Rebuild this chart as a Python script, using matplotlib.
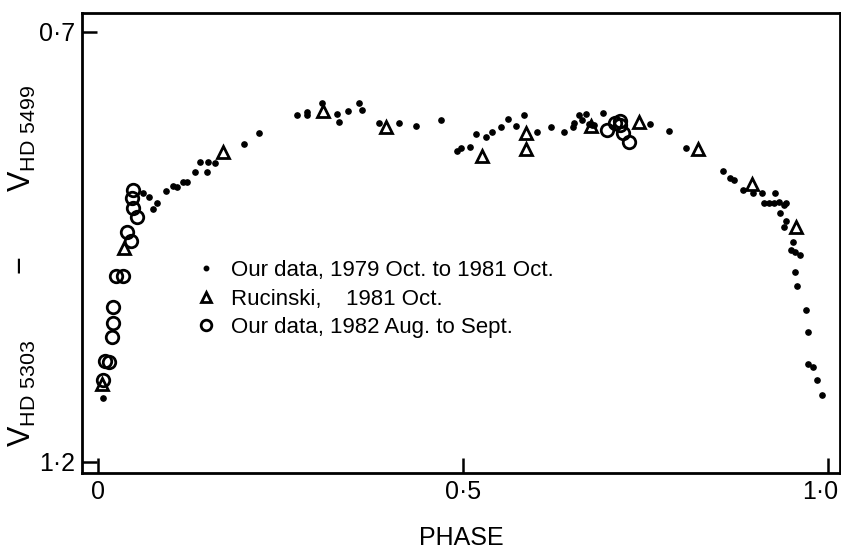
import matplotlib
matplotlib.use("Agg")
import matplotlib.pyplot as plt
from matplotlib.ticker import FixedLocator, FixedFormatter
from matplotlib.transforms import ScaledTranslation

plt.rcParams['font.family'] = ['Liberation Sans', 'DejaVu Sans']
plt.rcParams['mathtext.fontset'] = 'custom'
plt.rcParams['mathtext.rm'] = 'Liberation Sans'

# Our data, 1979 Oct. to 1981 Oct. (dots)
dots_phase = [0.0073, 0.0621, 0.0703, 0.0804, 0.0758, 0.0932, 0.1032, 0.1078, 0.1168, 0.1215,
              0.1329, 0.1497, 0.1397, 0.1511, 0.1603, 0.2004, 0.2210, 0.2730, 0.2859, 0.2859,
              0.3064, 0.3270, 0.3305, 0.3429, 0.3575, 0.3621, 0.3853, 0.4127, 0.4356, 0.4692,
              0.4918, 0.4966, 0.5089, 0.5171, 0.5315, 0.5397, 0.5516, 0.5612, 0.5730, 0.5831,
              0.6010, 0.6199, 0.6386, 0.6500, 0.6511, 0.6586, 0.6682, 0.6633, 0.6763, 0.6914,
              0.6726, 0.6795, 0.7562, 0.7822, 0.8051, 0.8552, 0.8647, 0.8712, 0.8832, 0.8973,
              0.9092, 0.9274, 0.9114, 0.9182, 0.9251, 0.9319, 0.9388, 0.9425, 0.9342, 0.9425,
              0.9388, 0.9514, 0.9493, 0.9548, 0.9607, 0.9548, 0.9571, 0.9689, 0.9716, 0.9716,
              0.9790, 0.9845, 0.9914]
dots_mag = [1.1259, 0.8869, 0.8922, 0.8985, 0.9062, 0.8849, 0.8791, 0.8806, 0.8741, 0.8741,
            0.8631, 0.8624, 0.8515, 0.8508, 0.8520, 0.8302, 0.8178, 0.7965, 0.7934, 0.7971,
            0.7829, 0.7953, 0.8043, 0.7919, 0.7829, 0.7907, 0.8055, 0.8055, 0.8090, 0.8023,
            0.8384, 0.8355, 0.8341, 0.8190, 0.8217, 0.8169, 0.8105, 0.8015, 0.8097, 0.7965,
            0.8169, 0.8101, 0.8166, 0.8101, 0.8062, 0.7965, 0.7956, 0.8023, 0.8081, 0.7938,
            0.8070, 0.8085, 0.8073, 0.8151, 0.8352, 0.8616, 0.8701, 0.8721, 0.8841, 0.8876,
            0.8876, 0.8869, 0.8985, 0.8992, 0.8985, 0.8973, 0.9012, 0.8985, 0.9108, 0.9194,
            0.9264, 0.9438, 0.9535, 0.9555, 0.9593, 0.9791, 0.9953, 1.0233, 1.0485, 1.0864,
            1.0892, 1.1047, 1.1221]

# Rucinski, 1981 Oct. (triangles)
ruc_phase = [0.0055, 0.0356, 0.1716, 0.3078, 0.3945, 0.5251, 0.5863, 0.5863, 0.6753, 0.7411,
             0.8215, 0.8955, 0.9562]
ruc_mag = [1.1093, 0.9512, 0.8392, 0.7915, 0.8101, 0.8445, 0.8172, 0.8358, 0.8099, 0.8043,
           0.8364, 0.8767, 0.9264]

# Our data, 1982 Aug. to Sept. (circles)
new_phase = [0.0484, 0.0462, 0.0484, 0.0538, 0.0393, 0.0448, 0.0247, 0.0338, 0.0210, 0.0210,
             0.0188, 0.0096, 0.0155, 0.0068, 0.6968, 0.7082, 0.7141, 0.7195, 0.7264, 0.7151]
new_mag = [0.8837, 0.8934, 0.9050, 0.9155, 0.9322, 0.9427, 0.9837, 0.9837, 1.0194, 1.0387,
           1.0543, 1.0822, 1.0834, 1.1047, 0.8140, 0.8055, 0.8081, 0.8178, 0.8276, 0.8035]

labels = ['Our data, 1979 Oct. to 1981 Oct.',
          'Rucinski,    1981 Oct.',
          'Our data, 1982 Aug. to Sept.']
xticks = [0, 0.5, 1.0]
xticklabels = ['0', '0·5', '1·0']
yticks = [0.7, 1.2]
yticklabels = ['0·7', '1·2']

fig = plt.figure(figsize=(8.41, 5.51), dpi=100)
ax = fig.add_axes([82/841, 1 - 473/551, (840 - 82)/841, (473 - 13)/551])

h1, = ax.plot(dots_phase, dots_mag, 'o', color='black', markersize=3.8, linestyle='none')
h2, = ax.plot(ruc_phase, ruc_mag, '^', markerfacecolor='none', markeredgecolor='black',
              markeredgewidth=2, markersize=9, linestyle='none')
h3, = ax.plot(new_phase, new_mag, 'o', markerfacecolor='none', markeredgecolor='black',
              markeredgewidth=2, markersize=9, linestyle='none')

ax.set_xlim(-0.022, 1.016)
ax.set_ylim(1.2128, 0.678)

ax.xaxis.set_major_locator(FixedLocator(xticks))
ax.xaxis.set_major_formatter(FixedFormatter(xticklabels))
ax.yaxis.set_major_locator(FixedLocator(yticks))
ax.yaxis.set_major_formatter(FixedFormatter(yticklabels))
ax.tick_params(direction='in', length=11, width=1.8, labelsize=18, colors='black')
ax.tick_params(axis='x', pad=5)
ax.tick_params(axis='y', pad=5)

for sp in ax.spines.values():
    sp.set_linewidth(2)

ax.set_xlabel('PHASE', fontsize=18, labelpad=16)
ax.set_ylabel(r'$\mathrm{V}_{\mathrm{HD\ 5303}}\ \ \ \ \ \ -\ \ \ \ \ \ \mathrm{V}_{\mathrm{HD\ 5499}}$',
              fontsize=22)
ax.yaxis.set_label_coords(-0.058, 0.45)

leg = ax.legend([h1, h2, h3], labels, loc='upper left',
                bbox_to_anchor=(195/841, 1 - 260/551), bbox_transform=fig.transFigure,
                frameon=False, fontsize=16, handlelength=1.0, handletextpad=0.6,
                labelspacing=0.34, borderpad=0, borderaxespad=0, markerscale=0.85)

fig.canvas.draw()
last = ax.get_xticklabels()[-1]
last.set_transform(last.get_transform() + ScaledTranslation(-6/72, 0, fig.dpi_scale_trans))

fig.savefig('out.png', dpi=100)
